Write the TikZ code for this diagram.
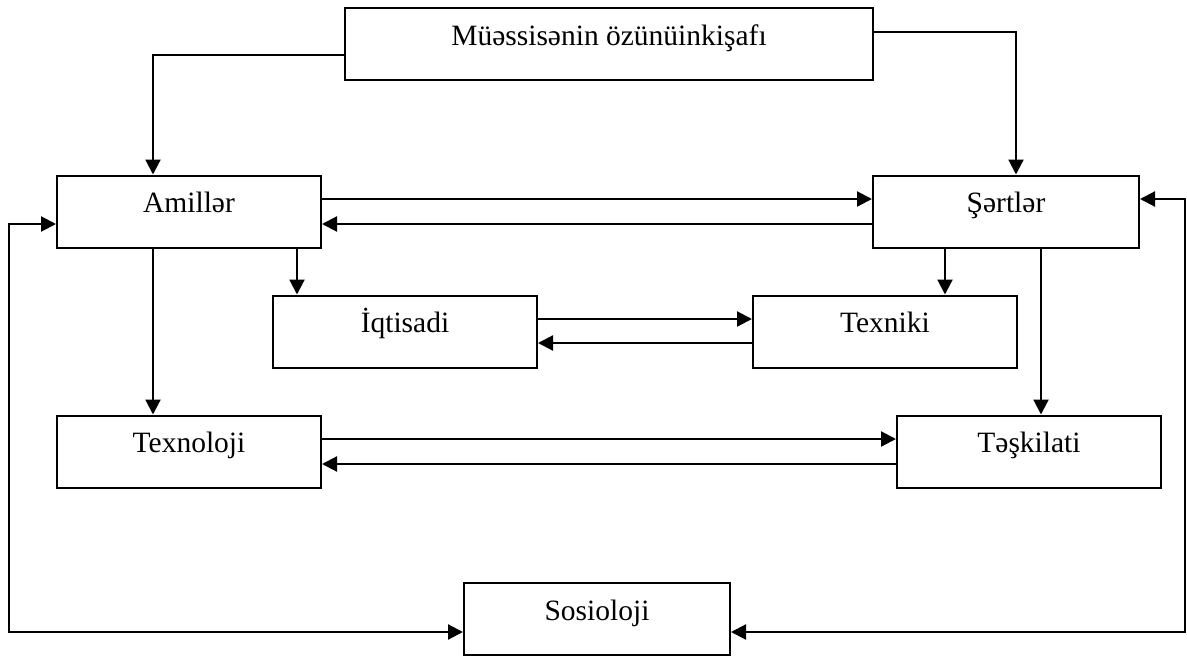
\documentclass[tikz,border=0pt]{standalone}
\usepackage{fontspec}
\setmainfont{Liberation Serif}
\usetikzlibrary{arrows.meta}
\begin{document}
\begin{tikzpicture}[x=1pt,y=-1pt,
  box/.style={draw,line width=2pt,rectangle,inner sep=0pt,minimum height=72pt,
    font=\fontsize{29.5}{32}\selectfont,text height=12pt,text depth=10pt},
  conn/.style={line width=2.2pt,-{Triangle[length=15pt,width=15pt]}},
  both/.style={line width=2.2pt,{Triangle[length=15pt,width=15pt]}-{Triangle[length=15pt,width=15pt]}}]
\useasboundingbox (0,0) rectangle (1187,656);
\node[box,minimum width=528pt] (top) at (609,44) {Müəssisənin özünüinkişafı};
\node[box,minimum width=264pt] (am) at (189,211.5) {Amillər};
\node[box,minimum width=266pt] (sr) at (1006,211.5) {Şərtlər};
\node[box,minimum width=264pt] (iq) at (405,331.5) {İqtisadi};
\node[box,minimum width=264pt] (tx) at (885,331.5) {Texniki};
\node[box,minimum width=264pt] (tn) at (189,451.5) {Texnoloji};
\node[box,minimum width=264pt] (ts) at (1029,451.5) {Təşkilati};
\node[box,minimum width=266pt] (so) at (597,619) {Sosioloji};
\coordinate (lc) at (9,632);
\coordinate (rc) at (1185,632);
\draw[conn] (top.west |- 0,55) -| (153,0 |- am.north);
\draw[conn] (top.east |- 0,32) -| (1016,0 |- sr.north);
\draw[conn] (am.east |- 0,199) -- (sr.west |- 0,199);
\draw[conn] (sr.west |- 0,224) -- (am.east |- 0,224);
\draw[conn] (297,0 |- am.south) -- (297,0 |- iq.north);
\draw[conn] (153,0 |- am.south) -- (153,0 |- tn.north);
\draw[conn] (945,0 |- sr.south) -- (945,0 |- tx.north);
\draw[conn] (1041,0 |- sr.south) -- (1041,0 |- ts.north);
\draw[conn] (iq.east |- 0,319) -- (tx.west |- 0,319);
\draw[conn] (tx.west |- 0,343) -- (iq.east |- 0,343);
\draw[conn] (tn.east |- 0,439) -- (ts.west |- 0,439);
\draw[conn] (ts.west |- 0,464) -- (tn.east |- 0,464);
\draw[both] (am.west |- 0,224) -| (lc) -- (so.west |- lc);
\draw[both] (sr.east |- 0,199) -| (rc) -- (so.east |- rc);
\end{tikzpicture}
\end{document}
